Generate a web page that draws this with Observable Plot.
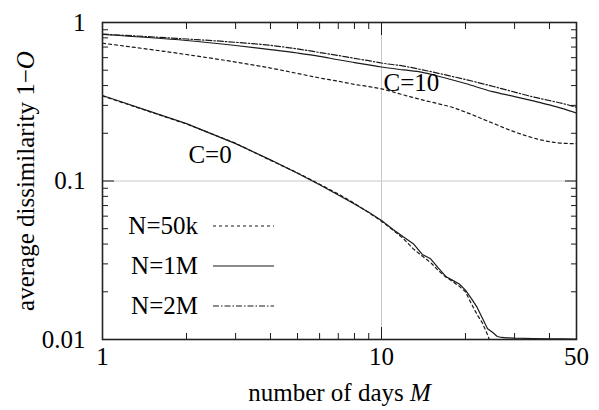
<!DOCTYPE html>
<html>
<head>
<meta charset="utf-8">
<script src="https://cdn.jsdelivr.net/npm/d3@7"></script>
<script src="https://cdn.jsdelivr.net/npm/@observablehq/plot@0.6"></script>
<style>
  html, body { margin: 0; padding: 0; background: #fff; }
  #chart { width: 599px; height: 410px; }
  #chart svg, #chart svg text { font-family: "Liberation Serif", "DejaVu Serif", serif !important; }
</style>
</head>
<body>
<div id="chart"></div>
<script>
// ---- data ----
const daysC10 = [1,2,3,4,5,6,7,8,9,10,12,14,16,18,20,25,30,35,40,45,50];
const c10_N50k = [0.740,0.628,0.563,0.516,0.477,0.447,0.426,0.407,0.394,0.381,0.349,0.325,0.307,0.291,0.272,0.232,0.204,0.187,0.177,0.173,0.172];
const c10_N1M  = [0.840,0.770,0.716,0.675,0.642,0.612,0.582,0.559,0.540,0.524,0.502,0.485,0.458,0.434,0.412,0.366,0.341,0.320,0.302,0.285,0.268];
const c10_N2M  = [0.845,0.787,0.750,0.718,0.681,0.647,0.619,0.594,0.574,0.555,0.531,0.503,0.478,0.456,0.437,0.396,0.364,0.339,0.322,0.307,0.292];

const daysC0_N1M = [1,2,3,4,5,6,7,8,9,10,11,12,13,14,15,16,17,18,19,20,21,22,23,24,25,26,27,28,30,35,40,45,50];
const c0_N1M = [0.346,0.230,0.172,0.136,0.112,0.0948,0.0815,0.0715,0.0635,0.0564,0.0495,0.0443,0.0402,0.0344,0.0323,0.0282,0.025,0.0236,0.0224,0.0205,0.0181,0.016,0.0136,0.0117,0.0111,0.01045,0.0103,0.01025,0.0102,0.01015,0.0101,0.01008,0.01005];
const daysC0_N50k = [1,2,3,4,5,6,7,8,9,10,11,12,13,14,15,16,17,18,19,20,21,22,23,24,25,26];
const c0_N50k = [0.344,0.229,0.173,0.135,0.1125,0.0955,0.0828,0.0722,0.0632,0.0558,0.049,0.0432,0.0373,0.0336,0.0306,0.0272,0.0248,0.0232,0.0217,0.0200,0.0168,0.0144,0.0127,0.0107,0.0088,0.0075];

const seriesNames = ["N=50k", "N=1M", "N=2M"];
const dashes = {"N=50k": "3,3", "N=1M": null, "N=2M": "6,2,1.5,2"};

const annotLabels = ["C=10", "C=0"];
const annotM = [12.8, 2.43];
const annotValue = [0.418, 0.145];

const xMajor = [1, 10, 50];
const xMinor = [2,3,4,5,6,7,8,9,20,30,40];
const yMajor = [0.01, 0.1, 1];
const yMinor = [0.02,0.03,0.04,0.05,0.06,0.07,0.08,0.09,0.2,0.3,0.4,0.5,0.6,0.7,0.8,0.9];

const xTitle = "number of days M";
const yTitle = "average dissimilarity 1\u2212O";

// ---- build rows ----
const rows = [];
function add(days, vals, series, group) {
  days.forEach((d, i) => rows.push({M: d, v: vals[i], series, group}));
}
add(daysC10, c10_N50k, "N=50k", "C=10");
add(daysC10, c10_N1M, "N=1M", "C=10");
add(daysC10, c10_N2M, "N=2M", "C=10");
add(daysC0_N50k, c0_N50k, "N=50k", "C=0");
add(daysC0_N1M, c0_N1M, "N=1M", "C=0");

const annots = annotLabels.map((t, i) => ({t, M: annotM[i], v: annotValue[i]}));

const ink = "#1a1a1a";
const serif = "Liberation Serif";
const lineMarks = [];
for (const s of seriesNames) {
  for (const g of ["C=10", "C=0"]) {
    const data = rows.filter(r => r.series === s && r.group === g);
    if (!data.length) continue;
    lineMarks.push(Plot.line(data, {x: "M", y: "v", stroke: ink, strokeWidth: 1.2,
      strokeDasharray: dashes[s], clip: true, curve: g === "C=10" ? "monotone-x" : "linear"}));
  }
}

function legend(index, scales, values, dimensions) {
  const g = d3.create("svg:g").attr("font-size", 25).attr("font-family", serif);
  const L = dimensions.marginLeft, T = dimensions.marginTop;
  seriesNames.forEach((name, i) => {
    const y = T + 204 + 40 * i;
    g.append("text").attr("x", L + 96).attr("y", y).attr("dy", "0.32em")
      .attr("text-anchor", "end").attr("fill", "#000").text(name);
    g.append("line").attr("x1", L + 111).attr("x2", L + 172).attr("y1", y).attr("y2", y)
      .attr("stroke", ink).attr("stroke-width", 1.1)
      .attr("stroke-dasharray", dashes[name]);
  });
  return g.node();
}

const fmtY = d => d === 1 ? "1" : d === 0.1 ? "0.1" : "0.01";

const plot = Plot.plot({
  width: 599,
  height: 410,
  marginLeft: 102,
  marginRight: 23,
  marginTop: 22,
  marginBottom: 71,
  style: {fontFamily: serif, fontSize: "25px", color: "#000", background: "#fff"},
  x: {type: "log", domain: [1, 50]},
  y: {type: "log", domain: [0.01, 1]},
  marks: [
    Plot.gridX([10], {stroke: "#c8c8c8", strokeOpacity: 1, strokeWidth: 1}),
    Plot.gridY([0.1], {stroke: "#c8c8c8", strokeOpacity: 1, strokeWidth: 1}),
    // inward ticks, all four sides
    Plot.axisX({anchor: "bottom", ticks: xMajor, tickSize: -12, fill: "none", label: null, stroke: ink}),
    Plot.axisX({anchor: "bottom", ticks: xMinor, tickSize: -6, fill: "none", label: null, stroke: ink}),
    Plot.axisX({anchor: "top", ticks: xMajor, tickSize: -12, fill: "none", label: null, stroke: ink}),
    Plot.axisX({anchor: "top", ticks: xMinor, tickSize: -6, fill: "none", label: null, stroke: ink}),
    Plot.axisY({anchor: "left", ticks: yMajor, tickSize: -12, fill: "none", label: null, stroke: ink}),
    Plot.axisY({anchor: "left", ticks: yMinor, tickSize: -6, fill: "none", label: null, stroke: ink}),
    Plot.axisY({anchor: "right", ticks: yMajor, tickSize: -12, fill: "none", label: null, stroke: ink}),
    Plot.axisY({anchor: "right", ticks: yMinor, tickSize: -6, fill: "none", label: null, stroke: ink}),
    // tick labels
    Plot.axisX({anchor: "bottom", ticks: xMajor, tickSize: 0, tickPadding: 8, tickFormat: d => String(d), label: null, fill: "#000", fontFamily: serif}),
    Plot.axisY({anchor: "left", ticks: yMajor, tickSize: 0, tickPadding: 17, tickFormat: fmtY, label: null, fill: "#000", fontFamily: serif}),
    ...lineMarks,
    Plot.text(annots, {x: "M", y: "v", text: "t", fill: "#000", fontSize: 25, fontFamily: serif}),
    legend,
    Plot.frame({stroke: "#222", strokeWidth: 1.6}),
    Plot.text([xTitle], {frameAnchor: "bottom", dy: 53, lineAnchor: "middle", textAnchor: "middle", fill: "#000", fontSize: 25, fontFamily: serif, className: "xtitle"}),
    Plot.text([yTitle], {frameAnchor: "left", dx: -77, rotate: -90, lineAnchor: "middle", textAnchor: "middle", fill: "#000", fontSize: 25, fontFamily: serif, className: "ytitle"})
  ]
});

// italicise the variable names in the axis titles
function italicLast(sel) {
  d3.select(plot).selectAll(sel + " text").each(function () {
    const t = this.textContent;
    const head = t.slice(0, -1), last = t.slice(-1);
    const node = d3.select(this);
    node.text(null);
    node.append("tspan").text(head);
    node.append("tspan").attr("font-style", "italic").text(last);
  });
}
italicLast(".xtitle");
italicLast(".ytitle");

document.getElementById("chart").appendChild(plot);
</script>
</body>
</html>
